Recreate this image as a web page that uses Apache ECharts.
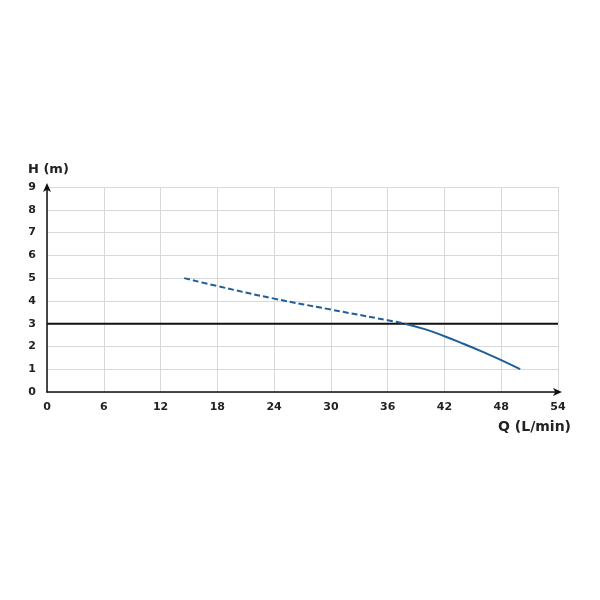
<!DOCTYPE html>
<html><head><meta charset="utf-8">
<script src="https://cdn.jsdelivr.net/npm/echarts@6/dist/echarts.min.js"></script>
<style>html,body{margin:0;padding:0;background:#fff}#c{width:600px;height:600px}</style>
</head><body><div id="c"></div>
<script>
const xTicks = [0, 6, 12, 18, 24, 30, 36, 42, 48, 54];
const yTicks = [0, 1, 2, 3, 4, 5, 6, 7, 8, 9];
const dashedQ = [14.5, 18, 24, 30, 36, 37.8];
const dashedH = [5.0, 4.65, 4.1, 3.62, 3.15, 3.0];
const solidQ = [37.8, 40, 42, 44, 46, 48, 50];
const solidH = [3.0, 2.75, 2.45, 2.12, 1.77, 1.4, 1.0];
const refQ = [0, 54];
const refH = [3, 3];
const zip = (a, b) => a.map((v, i) => [v, b[i]]);
const font = 'DejaVu Sans';
const chart = echarts.init(document.getElementById('c'));
chart.setOption({
  animation: false,
  grid: { left: 47, right: 42, top: 187, bottom: 208 },
  xAxis: {
    type: 'value', min: 0, max: 54, interval: 6,
    name: 'Q (L/min)', nameLocation: 'end', nameGap: 15,
    nameTextStyle: { color: '#222', fontFamily: font, fontWeight: 'bold', fontSize: 14, align: 'right', verticalAlign: 'top', padding: [28, 2, 0, 0] },
    axisLine: { show: true, lineStyle: { color: '#111', width: 1.5 }, symbol: ['none', 'arrow'], symbolSize: [6, 9], symbolOffset: [0, 4] },
    axisTick: { show: false },
    axisLabel: { color: '#222', fontFamily: font, fontWeight: 'bold', fontSize: 11, margin: 10 },
    splitLine: { show: true, lineStyle: { color: '#d9d9d9', width: 1 } }
  },
  yAxis: {
    type: 'value', min: 0, max: 9, interval: 1,
    name: 'H (m)', nameLocation: 'end', nameGap: 11,
    nameTextStyle: { color: '#222', fontFamily: font, fontWeight: 'bold', fontSize: 13, align: 'left', padding: [0, 0, 0, -19] },
    axisLine: { show: true, lineStyle: { color: '#111', width: 1.5 }, symbol: ['none', 'arrow'], symbolSize: [6, 9], symbolOffset: [0, 4] },
    axisTick: { show: false },
    axisLabel: { color: '#222', fontFamily: font, fontWeight: 'bold', fontSize: 11, margin: 11 },
    splitLine: { show: true, lineStyle: { color: '#d9d9d9', width: 1 } }
  },
  series: [
    { type: 'line', data: zip(refQ, refH), showSymbol: false, lineStyle: { color: '#111', width: 2 }, z: 3 },
    { type: 'line', data: zip(dashedQ, dashedH), smooth: true, showSymbol: false, lineStyle: { color: '#1f5f99', width: 2, type: [6, 3] }, z: 4 },
    { type: 'line', data: zip(solidQ, solidH), smooth: true, showSymbol: false, lineStyle: { color: '#1f5f99', width: 2 }, z: 4 }
  ]
});
</script></body></html>
